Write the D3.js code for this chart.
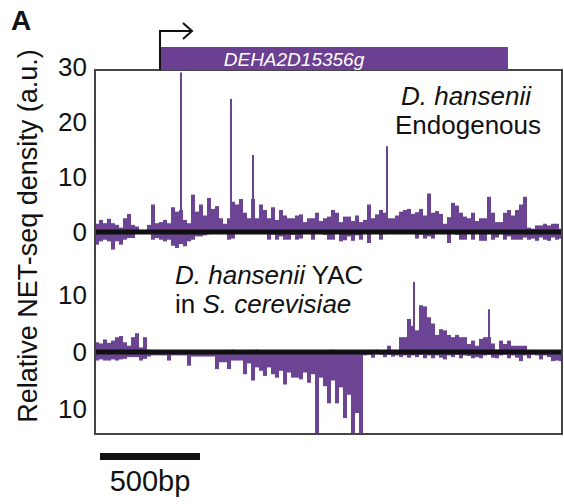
<!DOCTYPE html>
<html>
<head>
    <meta charset="UTF-8">
    <title>NET-seq density</title>
    <script src="https://cdnjs.cloudflare.com/ajax/libs/d3/7.8.5/d3.min.js"></script>
    <style>
        body {
            margin: 0;
            background: #fff;
        }
        svg text {
            font-family: "Liberation Sans", Arial, Helvetica, sans-serif;
            fill: #111;
        }
        .tick text {
            font-size: 26px;
        }
        .bar {
            fill: #6b4593;
        }
    </style>
</head>
<body>
    <div id="chart"></div>

    <script>
        // genomic bins, 20 bp each
        const binSize = 20;
        const regionLength = 2335;

        const geneName = "DEHA2D15356g";
        const geneStart = 325;
        const geneEnd = 2065;

        const scaleBarStart = 25;
        const scaleBarLength = 500;
        const scaleBarLabel = "500bp";

        // D. hansenii endogenous, sense (up) and antisense (down)
        const endoSense = [
            1.5, 2.2, 1.6, 2.4, 1.6, 1.3, 0.8, 2.5, 3.3, 1.3,
            1.0, 0.4, 0.4, 1.3, 5, 1.6, 1.8, 2.2, 1.6, 4.5,
            3.7, 4, 2.2, 1.6, 6.8, 3.7, 5, 3, 6.2, 4.2,
            4.7, 2.5, 1.5, 2.5, 5.5, 5, 6, 3.5, 2.5, 6,
            2.5, 5, 4, 2.5, 4.5, 2.2, 4, 3, 2.5, 2.5,
            3, 3.2, 1.8, 2.5, 2.5, 3.5, 2, 2.5, 2.8, 4,
            3.5, 1.8, 2.8, 2.8, 2, 3, 1.8, 2.2, 5, 2.5,
            3.2, 4, 3.5, 2.5, 2.5, 3, 3.7, 4,
            4.2, 3.3, 3.6, 4.2, 3, 7, 3.5, 3.8, 3.3, 1.5,
            2.7, 5.3, 4.8, 3.5, 2.8, 2.5, 3.5, 2, 2.5, 2.5,
            6.4, 3.5, 1.8, 1.8, 3.5, 4, 3, 4, 5, 6.4,
            0.8, 0.6, 1.2, 1.2, 1.5, 1.2, 1.5, 1.5, 0.6
        ];
        const endoAntisense = [
            2.3, 1.7, 1.4, 1.7, 3.2, 1.7, 2.3, 1.4, 1.1, 1.1,
            0.3, 0.2, 0.2, 0.2, 1.4, 1.1, 1.4, 1.7, 1.4, 2.5,
            2.9, 2.2, 2.6, 1.7, 1.4, 0.8, 0.8, 0.6, 0.4, 0.3,
            0.3, 0.2, 0.3, 1.4, 1.2, 0.3, 0.3, 0.2, 0.3, 0.2,
            0.3, 0.3, 0.3, 1.4, 0.5, 1.4, 0.8, 1.4, 1.4, 0.5,
            1.4, 1.2, 0.3, 0.3, 1.4, 0.3, 0.3, 0.5, 1.4, 1.4,
            0.3, 1.7, 1.5, 0.8, 1.6, 0.6, 1.4, 0.3, 2, 0.3,
            0.3, 1.4, 0.4, 0.3, 0.3, 0.3, 0.3, 0.3,
            0.3, 0.3, 1.2, 0.5, 1.2, 0.8, 1.2, 0.3, 0.3, 0.3,
            2, 0.3, 0.5, 1.4, 1.4, 0.3, 1.4, 0.3, 1.6, 1.6,
            0.3, 1.4, 1.0, 0.3, 1.4, 0.8, 1.4, 1.4, 1.4, 1.0,
            1.4, 1.2, 1.6, 1.0, 1.4, 1.6, 1.0, 1.4, 1.2
        ];
        const endoSpikes = [
            { pos: 430, value: 29 },
            { pos: 680, value: 24.2 },
            { pos: 790, value: 14 },
            { pos: 1460, value: 15.6 }
        ];

        // D. hansenii YAC in S. cerevisiae
        const yacSense = [
            1.7, 1.5, 2.2, 1.6, 2, 2.6, 2.8, 1.7, 1.1, 2.6,
            3.3, 0.8, 2.6, 0.4, 0, 0, 0, 0, 0, 0,
            0, 0, 0, 0, 0, 0, 0, 0, 0, 0,
            0, 0, 0, 0, 0.4, 0, 0, 0, 0, 0,
            0.4, 0, 0, 0, 0, 0, 0, 0, 0, 0,
            0, 0, 0, 0, 0, 0, 0, 0, 0, 0.4,
            0, 0, 0, 0, 0, 0, 0, 0, 0, 0,
            0.4, 0, 0, 1.1, 0.2, 0.3, 2.6, 2.6,
            5.8, 4.6, 3.8, 8.2, 8, 6.1, 5, 3, 4, 3.8,
            3, 2.6, 3, 2.6, 2.6, 1.4, 2, 1.1, 2.3, 2.6,
            2.6, 1.5, 0.4, 2, 1.4, 2, 1.1, 1.1, 1.1, 1.1,
            0.3, 0.3, 0.3, 0.3, 0.3, 0.3, 0.3, 0.3, 0.3
        ];
        const yacAntisense = [
            1.5, 1.3, 1.5, 1.5, 1.3, 1.5, 1.3, 1.2, 0.9, 0.9,
            0.9, 1.5, 1.2, 0.8, 0.6, 0.6, 0.6, 0.6, 1.5, 0.6,
            0.6, 0.6, 0.6, 2.4, 0.8, 0.8, 0.8, 0.8, 0.8, 0.8,
            3, 1.8, 1.8, 3, 1.5, 1.5, 1.5, 3.9, 2, 5,
            2.7, 3.3, 4.2, 2.7, 3.9, 4.5, 3.3, 5.7, 3.6, 4.5,
            4.5, 4.8, 3.6, 5.4, 3.9, 16, 4.5, 6, 9, 5,
            9, 6.2, 11.6, 7.5, 16, 10.7, 16, 0.6,
            0.5, 1.0, 0.4, 0.5, 0.9, 0.5, 0.8, 0.6, 0.9, 0.6,
            1.0, 0.6, 0.9, 0.5, 1.1, 0.6, 1.1, 0.6, 1.0, 1.3,
            0.6, 0.9, 0.5, 1.1, 0.6, 0.7, 1.1, 0.9, 1.1, 0.6,
            0.5, 1.0, 1.1, 0.6, 0.5, 1.1, 0.6, 1.0, 1.6, 0.6,
            1.1, 0.5, 0.6, 1.3, 0.6, 0.9, 1.6, 1.5, 1.6
        ];
        const yacSpikes = [
            { pos: 1595, value: 12.3 },
            { pos: 1970, value: 7.5 }
        ];

        const endoTicks = [0, 10, 20, 30];
        const yacTicks = [10, 0, -10];

        const width = 564;
        const height = 504;
        const plotLeft = 95, plotRight = 562, plotTop = 70, plotBottom = 434;
        const split = 256;

        const svg = d3.select("#chart")
            .append("svg")
            .attr("width", width)
            .attr("height", height);

        const x = d3.scaleLinear().domain([0, regionLength]).range([plotLeft, plotRight]);
        const yEndo = d3.scaleLinear().domain([0, 30]).range([232, 67]);
        const yYac = d3.scaleLinear().domain([-10, 10]).range([409, 295]);

        const defs = svg.append("defs");
        defs.append("clipPath").attr("id", "clip-endo")
            .append("rect").attr("x", plotLeft).attr("y", plotTop)
            .attr("width", plotRight - plotLeft).attr("height", split - plotTop);
        defs.append("clipPath").attr("id", "clip-yac")
            .append("rect").attr("x", plotLeft).attr("y", split)
            .attr("width", plotRight - plotLeft).attr("height", plotBottom - split);

        function drawTrack(id, y, sense, antisense, spikes) {
            const g = svg.append("g").attr("clip-path", `url(#${id})`);
            const bw = x(binSize) - x(0);

            g.selectAll("rect.up")
                .data(sense)
                .join("rect")
                .attr("class", "bar up")
                .attr("x", (d, i) => x(i * binSize))
                .attr("width", bw)
                .attr("y", d => y(d))
                .attr("height", d => y(0) - y(d));

            g.selectAll("rect.down")
                .data(antisense)
                .join("rect")
                .attr("class", "bar down")
                .attr("x", (d, i) => x(i * binSize))
                .attr("width", bw)
                .attr("y", y(0))
                .attr("height", d => y(-d) - y(0));

            g.selectAll("rect.spike")
                .data(spikes)
                .join("rect")
                .attr("class", "bar spike")
                .attr("x", d => x(d.pos) - 1)
                .attr("width", 2)
                .attr("y", d => y(d.value))
                .attr("height", d => y(0) - y(d.value));

            // zero line
            g.append("line")
                .attr("x1", plotLeft).attr("x2", plotRight)
                .attr("y1", y(0)).attr("y2", y(0))
                .attr("stroke", "#111")
                .attr("stroke-width", 5);
        }

        drawTrack("clip-endo", yEndo, endoSense, endoAntisense, endoSpikes);
        drawTrack("clip-yac", yYac, yacSense, yacAntisense, yacSpikes);

        // axes
        svg.append("g")
            .attr("transform", `translate(${plotLeft - 8},0)`)
            .call(d3.axisLeft(yEndo).tickValues(endoTicks).tickSize(0).tickPadding(0))
            .call(g => g.select(".domain").remove());
        svg.append("g")
            .attr("transform", `translate(${plotLeft - 8},0)`)
            .call(d3.axisLeft(yYac).tickValues(yacTicks).tickSize(0).tickPadding(0).tickFormat(d => Math.abs(d)))
            .call(g => g.select(".domain").remove());
        svg.selectAll(".tick text").attr("fill", "#111");

        // frame
        svg.append("rect")
            .attr("x", plotLeft).attr("y", plotTop)
            .attr("width", plotRight - plotLeft).attr("height", plotBottom - plotTop)
            .attr("fill", "none")
            .attr("stroke", "#444")
            .attr("stroke-width", 2);

        // gene model
        svg.append("rect")
            .attr("x", x(geneStart)).attr("y", 47)
            .attr("width", x(geneEnd) - x(geneStart)).attr("height", 23)
            .attr("fill", "#6b3f91");
        svg.append("text")
            .attr("x", 294)
            .attr("y", 66)
            .attr("text-anchor", "middle")
            .style("font-size", "19px")
            .style("font-style", "italic")
            .style("fill", "#fff")
            .text(geneName);

        // TSS arrow
        const tx = x(geneStart);
        svg.append("path")
            .attr("d", `M${tx},70 V31 H${tx + 31}`)
            .attr("fill", "none").attr("stroke", "#111").attr("stroke-width", 2);
        svg.append("path")
            .attr("d", `M${tx + 23},23 L${tx + 32},31 L${tx + 23},39`)
            .attr("fill", "none").attr("stroke", "#111").attr("stroke-width", 2);

        // labels
        svg.append("text")
            .attr("x", 11).attr("y", 30)
            .style("font-size", "28px").style("font-weight", "bold")
            .text("A");

        svg.append("text")
            .attr("transform", "translate(37,236) rotate(-90)")
            .attr("text-anchor", "middle")
            .style("font-size", "27px")
            .text("Relative NET-seq density (a.u.)");

        const t1 = svg.append("text").attr("text-anchor", "middle").style("font-size", "26px");
        t1.append("tspan").attr("x", 466).attr("y", 105).style("font-style", "italic").text("D. hansenii");
        t1.append("tspan").attr("x", 468).attr("y", 134).text("Endogenous");

        const t2 = svg.append("text").style("font-size", "26px");
        t2.append("tspan").attr("x", 175).attr("y", 284).style("font-style", "italic").text("D. hansenii");
        t2.append("tspan").text(" YAC");
        t2.append("tspan").attr("x", 175).attr("y", 313).text("in ");
        t2.append("tspan").style("font-style", "italic").text("S. cerevisiae");

        // scale bar
        svg.append("rect")
            .attr("x", x(scaleBarStart)).attr("y", 453)
            .attr("width", x(scaleBarStart + scaleBarLength) - x(scaleBarStart))
            .attr("height", 7)
            .attr("fill", "#111");
        svg.append("text")
            .attr("x", (x(scaleBarStart) + x(scaleBarStart + scaleBarLength)) / 2)
            .attr("y", 491)
            .attr("text-anchor", "middle")
            .style("font-size", "29px")
            .text(scaleBarLabel);
    </script>
</body>
</html>
